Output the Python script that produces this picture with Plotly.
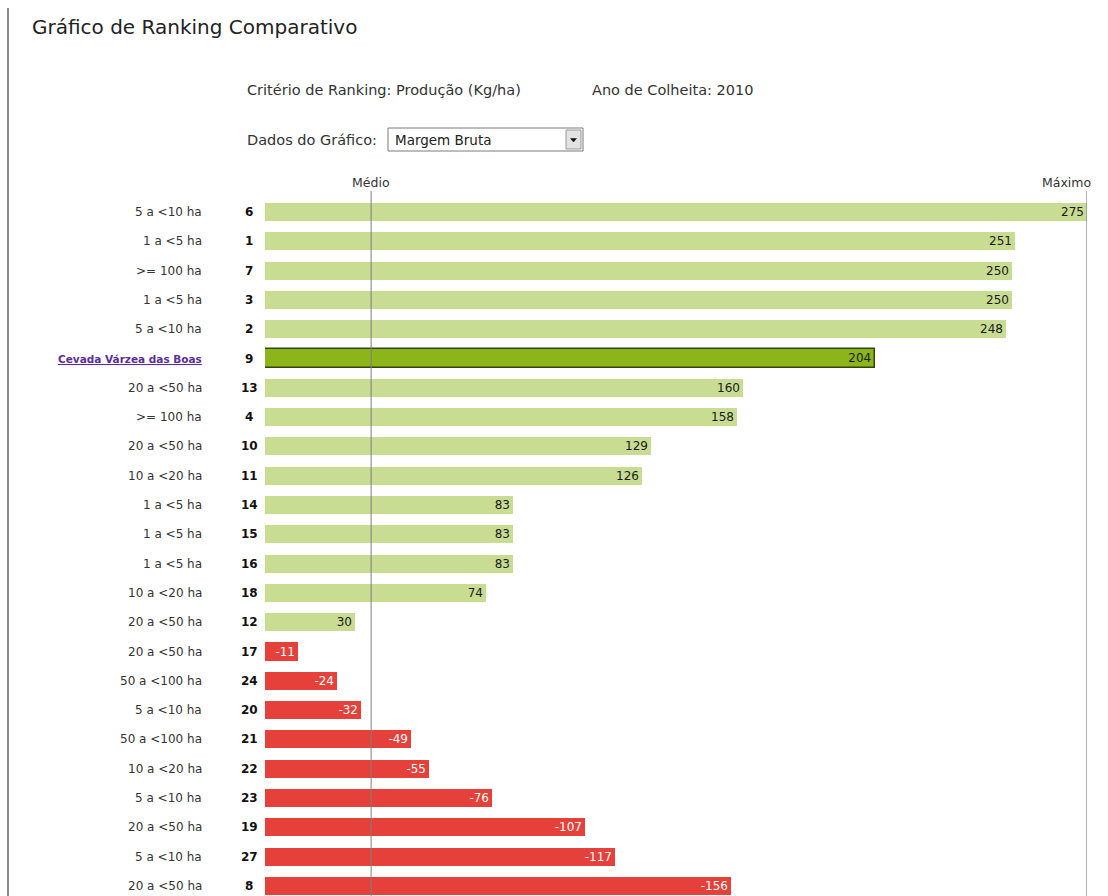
import plotly.graph_objects as go

# ---------------- data ----------------
categories = ["5 a <10 ha", "1 a <5 ha", ">= 100 ha", "1 a <5 ha", "5 a <10 ha",
              "Cevada Várzea das Boas", "20 a <50 ha", ">= 100 ha", "20 a <50 ha",
              "10 a <20 ha", "1 a <5 ha", "1 a <5 ha", "1 a <5 ha", "10 a <20 ha",
              "20 a <50 ha", "20 a <50 ha", "50 a <100 ha", "5 a <10 ha",
              "50 a <100 ha", "10 a <20 ha", "5 a <10 ha", "20 a <50 ha",
              "5 a <10 ha", "20 a <50 ha"]
ranks = [6, 1, 7, 3, 2, 9, 13, 4, 10, 11, 14, 15, 16, 18, 12, 17, 24, 20, 21, 22, 23, 19, 27, 8]
values = [275, 251, 250, 250, 248, 204, 160, 158, 129, 126, 83, 83, 83, 74, 30,
          -11, -24, -32, -49, -55, -76, -107, -117, -156]
highlight = "Cevada Várzea das Boas"
medio = 35.5
maximo = 275

title = "Gráfico de Ranking Comparativo"
criterio = "Critério de Ranking: Produção (Kg/ha)"
ano = "Ano de Colheita: 2010"
dados_label = "Dados do Gráfico:"
dados_value = "Margem Bruta"

# ---------------- layout geometry ----------------
W, H = 1108, 896
L, R = 265, 1087
ROW0, ROWSTEP = 212, 29.3


def px(x):
    return (x - L) / (R - L)


def py(y):
    return 1 - y / H


y_idx = list(range(len(values)))
y_top = -ROW0 / ROWSTEP
y_bot = (H - ROW0) / ROWSTEP

LIGHT_GREEN = "#c8dc92"
DARK_GREEN = "#8cb51c"
RED = "#e5403a"

colors, line_colors, line_widths, txt_colors = [], [], [], []
for c, v in zip(categories, values):
    if c == highlight:
        colors.append(DARK_GREEN)
        line_colors.append("#35440f")
        line_widths.append(1.5)
        txt_colors.append("#1a1a1a")
    elif v >= 0:
        colors.append(LIGHT_GREEN)
        line_colors.append(LIGHT_GREEN)
        line_widths.append(0)
        txt_colors.append("#1a1a1a")
    else:
        colors.append(RED)
        line_colors.append(RED)
        line_widths.append(0)
        txt_colors.append("#ffffff")

FONT = "DejaVu Sans"

fig = go.Figure()
fig.add_trace(go.Bar(
    x=[abs(v) for v in values],
    y=y_idx,
    orientation="h",
    width=0.62,
    marker=dict(color=colors, line=dict(color=line_colors, width=line_widths)),
    text=[str(v) for v in values],
    textposition="inside",
    insidetextanchor="end",
    textangle=0,
    constraintext="none",
    insidetextfont=dict(color=txt_colors, size=12, family=FONT),
    hoverinfo="skip",
    cliponaxis=True,
))

annotations = []
for i, (c, r) in enumerate(zip(categories, ranks)):
    if c == highlight:
        lab = "<u><b>" + c + "</b></u>"
        col = "#5b2d9a"
        sz = 10.5
    else:
        lab = c
        col = "#333333"
        sz = 12
    annotations.append(dict(x=px(204), y=i, xref="paper", yref="y", text=lab,
                            showarrow=False, xanchor="right", yanchor="middle",
                            font=dict(family=FONT, size=sz, color=col)))
    annotations.append(dict(x=px(249), y=i, xref="paper", yref="y", text="<b>%d</b>" % r,
                            showarrow=False, xanchor="center", yanchor="middle",
                            font=dict(family=FONT, size=12, color="#111111")))

annotations += [
    dict(x=px(30), y=py(27), xref="paper", yref="paper", text=title, showarrow=False,
         xanchor="left", yanchor="middle", font=dict(family=FONT, size=20, color="#222222")),
    dict(x=px(245), y=py(90), xref="paper", yref="paper", text=criterio, showarrow=False,
         xanchor="left", yanchor="middle", font=dict(family=FONT, size=14.5, color="#333333")),
    dict(x=px(590), y=py(90), xref="paper", yref="paper", text=ano, showarrow=False,
         xanchor="left", yanchor="middle", font=dict(family=FONT, size=14.5, color="#333333")),
    dict(x=px(245), y=py(140), xref="paper", yref="paper", text=dados_label, showarrow=False,
         xanchor="left", yanchor="middle", font=dict(family=FONT, size=14.5, color="#333333")),
    dict(x=px(393), y=py(140), xref="paper", yref="paper", text=dados_value, showarrow=False,
         xanchor="left", yanchor="middle", font=dict(family=FONT, size=13.5, color="#222222")),
    dict(x=medio, y=py(183), xref="x", yref="paper", text="Médio", showarrow=False,
         xanchor="center", yanchor="middle", font=dict(family=FONT, size=12.5, color="#333333")),
    dict(x=px(1093), y=py(183), xref="paper", yref="paper", text="Máximo", showarrow=False,
         xanchor="right", yanchor="middle", font=dict(family=FONT, size=12.5, color="#333333")),
]

shapes = [
    # page border
    dict(type="line", xref="paper", yref="paper", x0=px(8), x1=px(8), y0=py(8), y1=0,
         line=dict(color="#8a8a8a", width=2)),
    # medio & maximo lines
    dict(type="line", xref="x", yref="paper", x0=medio, x1=medio, y0=py(191), y1=0,
         line=dict(color="#7f7f7f", width=1), layer="above"),
    dict(type="line", xref="x", yref="paper", x0=maximo, x1=maximo, y0=py(191), y1=0,
         line=dict(color="#7f7f7f", width=1.2), layer="above"),
    # dropdown box
    dict(type="rect", xref="paper", yref="paper", x0=px(388), x1=px(583), y0=py(151), y1=py(128),
         fillcolor="white", line=dict(color="#7a7a7a", width=1)),
    dict(type="rect", xref="paper", yref="paper", x0=px(566), x1=px(581), y0=py(149), y1=py(130),
         fillcolor="#e2e2e2", line=dict(color="#9a9a9a", width=1)),
    dict(type="path", xref="paper", yref="paper",
         path="M %f,%f L %f,%f L %f,%f Z" % (px(570.5), py(138.5), px(576.5), py(138.5), px(573.5), py(142)),
         fillcolor="#111111", line=dict(color="#111111", width=0.5)),
]

fig.update_layout(
    width=W, height=H,
    margin=dict(l=L, r=W - R, t=0, b=0, pad=0),
    paper_bgcolor="white", plot_bgcolor="white",
    xaxis=dict(range=[0, maximo], visible=False, fixedrange=True),
    yaxis=dict(range=[y_bot, y_top], visible=False, fixedrange=True),
    showlegend=False,
    bargap=0,
    annotations=annotations,
    shapes=shapes,
)

fig.write_html("out.html", config={"displayModeBar": False},
               post_script="document.body.style.margin='0';document.body.style.overflow='hidden';")
